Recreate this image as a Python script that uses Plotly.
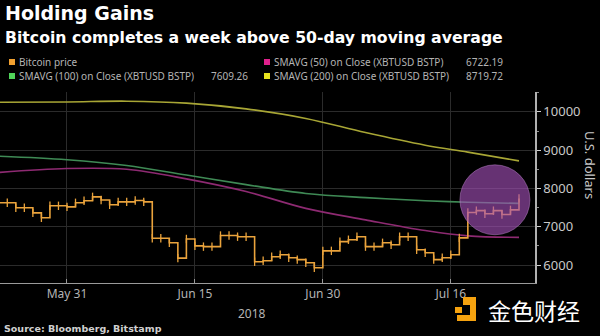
import pandas as pd
import plotly.graph_objects as go

# ---------------- data ----------------
price_dates = pd.date_range("2018-05-22", "2018-07-23", freq="D")
price = [8150, 7625, 7625, 7494, 7494, 7363, 7233, 7547, 7547,
         7520, 7625, 7677, 7781, 7700, 7573, 7650, 7650, 7685, 7650,
         6700, 6700, 6580, 6180, 6680, 6500, 6480, 6480, 6770, 6770,
         6740, 6740, 6085, 6110, 6215, 6270, 6190, 6140, 6060, 5930,
         6370, 6370, 6610, 6660, 6740, 6480, 6480, 6580, 6530, 6740,
         6740, 6400, 6320, 6140, 6190, 6270, 6710, 7370, 7420, 7340,
         7420, 7320, 7440, 7740]

sma_dates = ["2018-05-22", "2018-05-31", "2018-06-07", "2018-06-14", "2018-06-21",
             "2018-06-28", "2018-07-05", "2018-07-12", "2018-07-17", "2018-07-23"]
sma50 = [8400, 8520, 8500, 8250, 7920, 7480, 7180, 6900, 6760, 6722.19]
sma100 = [8850, 8750, 8600, 8350, 8100, 7870, 7760, 7680, 7640, 7609.26]
sma200 = [10250, 10260, 10280, 10230, 10080, 9830, 9460, 9130, 8950, 8719.72]

tick_dates = ["2018-05-31", "2018-06-15", "2018-06-30", "2018-07-15"]
tick_labels = ["May 31", "Jun 15", "Jun 30", "Jul 16"]
y_ticks = [6000, 7000, 8000, 9000, 10000]
y_tick_labels = ["6000", "7000", "8000", "9000", "10000"]

legend_items = [
    ("Bitcoin price", "", "#f0a030"),
    ("SMAVG (100) on Close (XBTUSD BSTP)", "7609.26", "#4fd35a"),
    ("SMAVG (50) on Close (XBTUSD BSTP)", "6722.19", "#e0208c"),
    ("SMAVG (200) on Close (XBTUSD BSTP)", "8719.72", "#e6e21e"),
]

# ---------------- layout geometry ----------------
W, H = 600, 336
PL, PR, PT, PB = 0, 535, 92, 283  # plot area in pixels


def px(x):
    return (x - PL) / (PR - PL)


def py(y):
    return (PB - y) / (PB - PT)


fig = go.Figure()

fig.add_trace(go.Scatter(x=sma_dates, y=sma200, mode="lines", line=dict(color="#a8a635", width=1.6, shape="spline"), showlegend=False))
fig.add_trace(go.Scatter(x=sma_dates, y=sma100, mode="lines", line=dict(color="#3f8a55", width=1.6, shape="spline"), showlegend=False))
fig.add_trace(go.Scatter(x=sma_dates, y=sma50, mode="lines", line=dict(color="#8e2a72", width=1.6, shape="spline"), showlegend=False))
fig.add_trace(go.Scatter(x=price_dates, y=price, mode="lines+markers",
                         line=dict(color="#eaa33c", width=1.6, shape="hv"),
                         marker=dict(symbol="line-ns", size=6, line=dict(color="#eaa33c", width=1.3)),
                         showlegend=False))

shapes = []
# highlight circle
shapes.append(dict(type="circle", xref="x", yref="y",
                   x0="2018-07-16 01:40", x1="2018-07-24 06:40", y0=6790, y1=8617,
                   fillcolor="rgba(165,80,185,0.62)", line=dict(color="rgba(200,140,215,0.45)", width=1),
                   layer="above"))

annotations = []
# titles
annotations.append(dict(xref="paper", yref="paper", x=px(3), y=py(13), xanchor="left", yanchor="middle",
                        text="<b>Holding Gains</b>", showarrow=False,
                        font=dict(family="DejaVu Sans", size=19, color="#ffffff")))
annotations.append(dict(xref="paper", yref="paper", x=px(3), y=py(37), xanchor="left", yanchor="middle",
                        text="<b>Bitcoin completes a week above 50-day moving average</b>", showarrow=False,
                        font=dict(family="DejaVu Sans", size=15.7, color="#ffffff")))

# legend
leg_pos = [(12, 62, 250), (12, 76, 250), (267, 62, 505), (267, 76, 505)]
for (label, val, col), (lx, ly, vx) in zip(legend_items, leg_pos):
    shapes.append(dict(type="rect", xref="paper", yref="paper",
                       x0=px(lx - 3), x1=px(lx + 3), y0=py(ly + 3), y1=py(ly - 3),
                       fillcolor=col, line=dict(width=0)))
    annotations.append(dict(xref="paper", yref="paper", x=px(lx + 5), y=py(ly), xanchor="left", yanchor="middle",
                            text=label, showarrow=False, font=dict(family="Noto Sans", size=10, color="#b4b4b4")))
    if val:
        annotations.append(dict(xref="paper", yref="paper", x=px(vx), y=py(ly), xanchor="right", yanchor="middle",
                                text=val, showarrow=False, font=dict(family="Noto Sans", size=10, color="#b4b4b4")))

# y axis title
annotations.append(dict(xref="paper", yref="paper", x=px(590), y=py(165), xanchor="center", yanchor="middle",
                        text="U.S. dollars", textangle=90, showarrow=False,
                        font=dict(family="Noto Sans", size=13, color="#c8c8c8")))
# year
annotations.append(dict(xref="paper", yref="paper", x=px(252), y=py(313), xanchor="center", yanchor="middle",
                        text="2018", showarrow=False, font=dict(family="Noto Sans", size=12, color="#b4b4b4")))
# source
annotations.append(dict(xref="paper", yref="paper", x=px(2), y=py(328), xanchor="left", yanchor="middle",
                        text="<b>Source: Bloomberg, Bitstamp</b>", showarrow=False,
                        font=dict(family="DejaVu Sans", size=9.5, color="#d0d0d0")))
# watermark
annotations.append(dict(xref="paper", yref="paper", x=px(486), y=py(310), xanchor="left", yanchor="middle",
                        text="金色财经", showarrow=False,
                        font=dict(family="Noto Sans CJK SC", size=23, color="#ffffff")))
for (x0, y0, x1, y1) in [(463, 297, 470, 305), (455, 307, 462, 313), (470, 297, 476, 321), (457, 315, 476, 321)]:
    shapes.append(dict(type="rect", xref="paper", yref="paper", x0=px(x0), x1=px(x1), y0=py(y1), y1=py(y0),
                       fillcolor="#f5a20f", line=dict(width=0)))

fig.update_layout(
    width=W, height=H,
    margin=dict(l=PL, r=W - PR, t=PT, b=H - PB),
    paper_bgcolor="#000000", plot_bgcolor="#000000",
    shapes=shapes, annotations=annotations,
    showlegend=False,
    xaxis=dict(range=["2018-05-23 03:30", "2018-07-24 21:00"], type="date",
               tickvals=tick_dates, ticktext=tick_labels,
               tickfont=dict(family="Noto Sans", size=12, color="#b4b4b4"),
               showgrid=True, gridcolor="#2b2b2b", gridwidth=1,
               showline=True, linecolor="#9a9a9a", linewidth=1,
               ticks="inside", ticklen=4, tickcolor="#9a9a9a", zeroline=False),
    yaxis=dict(range=[5530, 10520], side="right", tickvals=y_ticks, ticktext=y_tick_labels,
               tickfont=dict(family="Noto Sans", size=13, color="#c8c8c8"),
               showgrid=True, gridcolor="#2b2b2b", gridwidth=1,
               showline=True, linecolor="#b0b0b0", linewidth=1.5,
               ticks="outside", ticklen=4, tickcolor="#d0d0d0",
               minor=dict(dtick=500, ticks="outside", ticklen=2, tickcolor="#909090", showgrid=False),
               zeroline=False),
)

fig.write_html("out.html")
